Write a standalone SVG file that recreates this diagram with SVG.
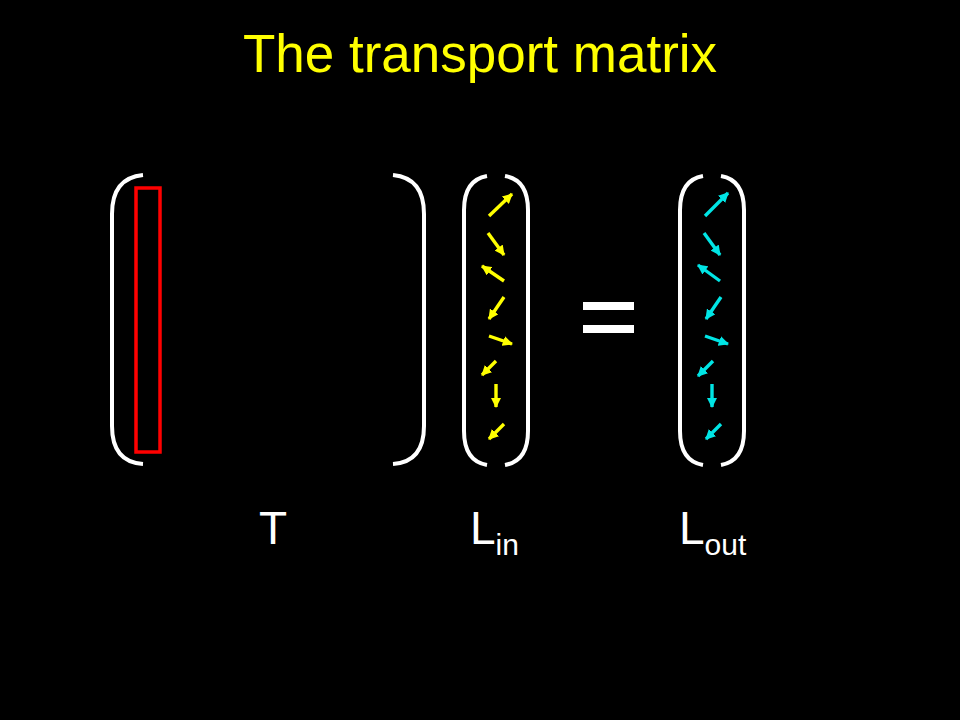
<svg xmlns="http://www.w3.org/2000/svg" width="960" height="720" viewBox="0 0 960 720">
<defs>
<style>
.br{fill:none;stroke:#fff;stroke-width:4;stroke-linecap:butt}
.ay{stroke:#ffff00;stroke-width:3.4;fill:none}
.ac{stroke:#00e5e5;stroke-width:3.4;fill:none}
.lbl{font-family:"Liberation Sans",Arial,sans-serif;fill:#fff}
</style>
<marker id="hy" viewBox="0 0 10 10" refX="9" refY="5" markerWidth="3" markerHeight="3" orient="auto" markerUnits="strokeWidth">
<path d="M0,0 L10,5 L0,10 Z" fill="#ffff00"/>
</marker>
<marker id="hc" viewBox="0 0 10 10" refX="9" refY="5" markerWidth="3" markerHeight="3" orient="auto" markerUnits="strokeWidth">
<path d="M0,0 L10,5 L0,10 Z" fill="#00e5e5"/>
</marker>
</defs>
<rect width="960" height="720" fill="#000"/>
<text x="480" y="72" text-anchor="middle" font-family="'Liberation Sans',Arial,sans-serif" font-size="53" fill="#ffff00">The transport matrix</text>

<g id="T">
<path class="br" d="M143,175 Q112,178 112,214 L112,426 Q112,462 143,464"/>
<path class="br" d="M393,175 Q424,178 424,214 L424,426 Q424,462 393,464"/>
<rect x="136" y="188" width="24" height="264" fill="none" stroke="#ff0000" stroke-width="3.5"/>
<text class="lbl" x="273" y="544" text-anchor="middle" font-size="46">T</text>
</g>

<g id="Lin">
<path class="br" d="M487,176 Q464,180 464,210 L464,431 Q464,461 487,465"/>
<path class="br" d="M505,176 Q528,180 528,210 L528,431 Q528,461 505,465"/>
<text class="lbl" x="470" y="544" font-size="46">L<tspan font-size="30" dy="11">in</tspan></text>
</g>

<g id="equals">
<rect x="583" y="302" width="51" height="8" fill="#fff"/>
<rect x="583" y="325" width="51" height="8" fill="#fff"/>
</g>

<g id="Lout">
<path class="br" d="M703,176 Q680,180 680,210 L680,431 Q680,461 703,465"/>
<path class="br" d="M721,176 Q744,180 744,210 L744,431 Q744,461 721,465"/>
<text class="lbl" x="679" y="544" font-size="46">L<tspan font-size="30" dy="11">out</tspan></text>
</g>

<g id="connectors">
<line class="ay" marker-end="url(#hy)" x1="489" y1="216" x2="512" y2="194"/>
<line class="ay" marker-end="url(#hy)" x1="488" y1="233" x2="504" y2="255"/>
<line class="ay" marker-end="url(#hy)" x1="504" y1="281" x2="482" y2="266"/>
<line class="ay" marker-end="url(#hy)" x1="504" y1="297" x2="489" y2="319"/>
<line class="ay" marker-end="url(#hy)" x1="489" y1="336" x2="512" y2="344"/>
<line class="ay" marker-end="url(#hy)" x1="496" y1="361" x2="482" y2="375"/>
<line class="ay" marker-end="url(#hy)" x1="496" y1="384" x2="496" y2="407"/>
<line class="ay" marker-end="url(#hy)" x1="504" y1="424" x2="489" y2="439"/>

<line class="ac" marker-end="url(#hc)" x1="705" y1="216" x2="728" y2="193"/>
<line class="ac" marker-end="url(#hc)" x1="704" y1="233" x2="720" y2="255"/>
<line class="ac" marker-end="url(#hc)" x1="720" y1="281" x2="698" y2="265"/>
<line class="ac" marker-end="url(#hc)" x1="721" y1="297" x2="706" y2="319"/>
<line class="ac" marker-end="url(#hc)" x1="705" y1="336" x2="728" y2="344"/>
<line class="ac" marker-end="url(#hc)" x1="713" y1="361" x2="698" y2="376"/>
<line class="ac" marker-end="url(#hc)" x1="712" y1="384" x2="712" y2="407"/>
<line class="ac" marker-end="url(#hc)" x1="721" y1="424" x2="706" y2="439"/>
</g>
</svg>
